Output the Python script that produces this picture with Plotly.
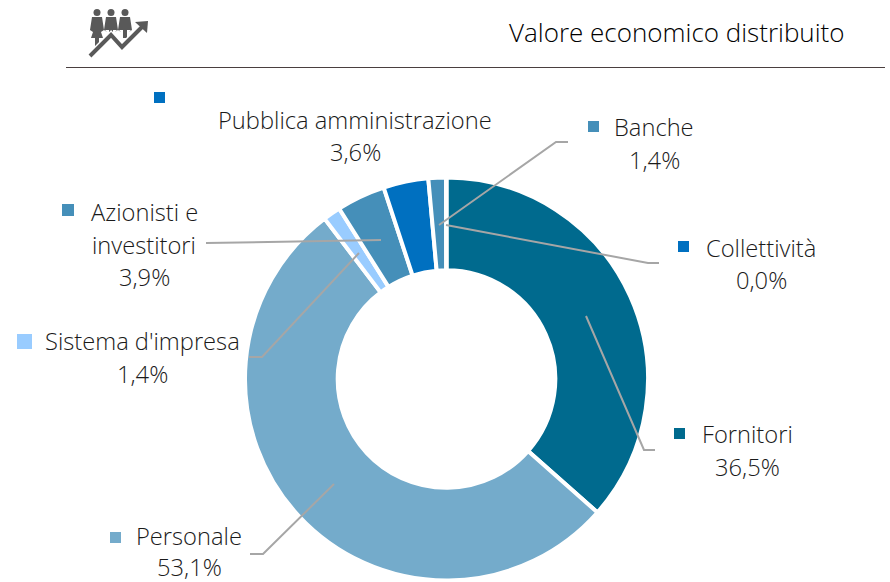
import plotly.graph_objects as go

categories = ["Fornitori", "Personale", "Sistema d'impresa", "Azionisti e<br>investitori",
              "Pubblica amministrazione", "Banche", "Collettività"]
values = [36.5, 53.1, 1.4, 3.9, 3.6, 1.4, 0.04]
value_labels = ["36,5%", "53,1%", "1,4%", "3,9%", "3,6%", "1,4%", "0,0%"]
colors = ["#006A8E", "#74ABCB", "#99CCFF", "#458FB9", "#0070C0", "#458FB9", "#0070C0"]
title_text = "Valore economico distribuito"

W, H = 890, 582
FONT = "Open Sans"
def px(x): return x / W
def py(y): return 1 - y / H

fig = go.Figure(go.Pie(
    labels=categories, values=values, sort=False, direction="clockwise", rotation=0,
    hole=0.54, textinfo="none", hoverinfo="label+percent", showlegend=False,
    marker=dict(colors=colors, line=dict(color="white", width=4)),
    domain=dict(x=[px(245), px(648)], y=[py(580.5), py(177.5)]),
))

shapes = []
def line(pts, color="#A6A6A6", width=2):
    d = "M" + " L".join(f"{px(x):.5f},{py(y):.5f}" for x, y in pts)
    shapes.append(dict(type="path", path=d, xref="paper", yref="paper", line=dict(color=color, width=width)))
def poly(pts, color):
    d = "M" + " L".join(f"{px(x):.5f},{py(y):.5f}" for x, y in pts) + " Z"
    shapes.append(dict(type="path", path=d, xref="paper", yref="paper", fillcolor=color, line_width=0))

# leader lines
line([(586, 316), (644, 450), (655, 450)])
line([(334, 484), (263, 554), (250, 554)])
line([(359, 253), (262, 357), (249, 357)])
line([(381, 240), (206, 243)])
line([(439, 225), (556, 142), (568, 142)])
line([(446, 225), (648, 263), (659, 263)])

# header rule
line([(66, 67.5), (885, 67.5)], color="#4a3f3f", width=1)

# legend squares
for x, y, s, c in [(154, 92, 11, colors[4]), (588, 121, 11, colors[5]), (678, 241, 11, colors[6]),
                   (62, 204, 12, colors[3]), (17, 334, 15, colors[2]), (674, 428, 11, colors[0]),
                   (110, 532, 11, colors[1])]:
    shapes.append(dict(type="rect", xref="paper", yref="paper", x0=px(x), x1=px(x + s),
                       y0=py(y + s), y1=py(y), fillcolor=c, line_width=0))

# icon: three figures and a rising arrow
G = "#595959"
for cx, foot in ((97, 46), (111, 38), (125, 38)):
    shapes.append(dict(type="circle", xref="paper", yref="paper", x0=px(cx - 3.5), x1=px(cx + 3.5),
                       y0=py(16), y1=py(9), fillcolor=G, line_width=0))
    poly([(cx - 5, 17), (cx + 5, 17), (cx + 7, 30), (cx + 4, 32), (cx + 6, foot - 8), (cx + 2, foot - 8),
          (cx + 2, foot), (cx - 2, foot), (cx - 2, foot - 8), (cx - 6, foot - 8), (cx - 4, 32), (cx - 7, 30)], G)
zig = [(90, 56), (111, 35), (122, 47), (142, 27)]
line(zig, color="white", width=7)
line(zig, color=G, width=4)
poly([(135, 22), (148, 21), (147, 33)], G)

ann = []
def text(t, x, y, size=23.7, anchor="center", color="#1a1a1a"):
    ann.append(dict(text=t, x=px(x), y=py(y), xref="paper", yref="paper", showarrow=False,
                    xanchor=anchor, yanchor="middle", borderpad=0,
                    font=dict(family=FONT, size=size, color=color, weight=300), align="center"))

text(title_text, 846, 32, size=26, anchor="right", color="#000000")
text(categories[4], 355, 120); text(value_labels[4], 355, 152)
text(categories[5], 654, 127); text(value_labels[5], 654, 160)
text(categories[6], 761, 248); text(value_labels[6], 761, 280)
text("Azionisti e", 144, 212); text("investitori", 144, 245); text(value_labels[3], 144, 277)
text(categories[2], 142, 341); text(value_labels[2], 142, 374)
text(categories[0], 747, 434); text(value_labels[0], 747, 467)
text(categories[1], 189, 536); text(value_labels[1], 189, 566.5)

fig.update_layout(width=W, height=H, margin=dict(l=0, r=0, t=0, b=0), paper_bgcolor="white",
                  shapes=shapes, annotations=ann, font=dict(family=FONT))
fig.write_html("out.html", config=dict(displayModeBar=False),
               post_script="document.body.style.margin='0';document.body.style.overflow='hidden';")
